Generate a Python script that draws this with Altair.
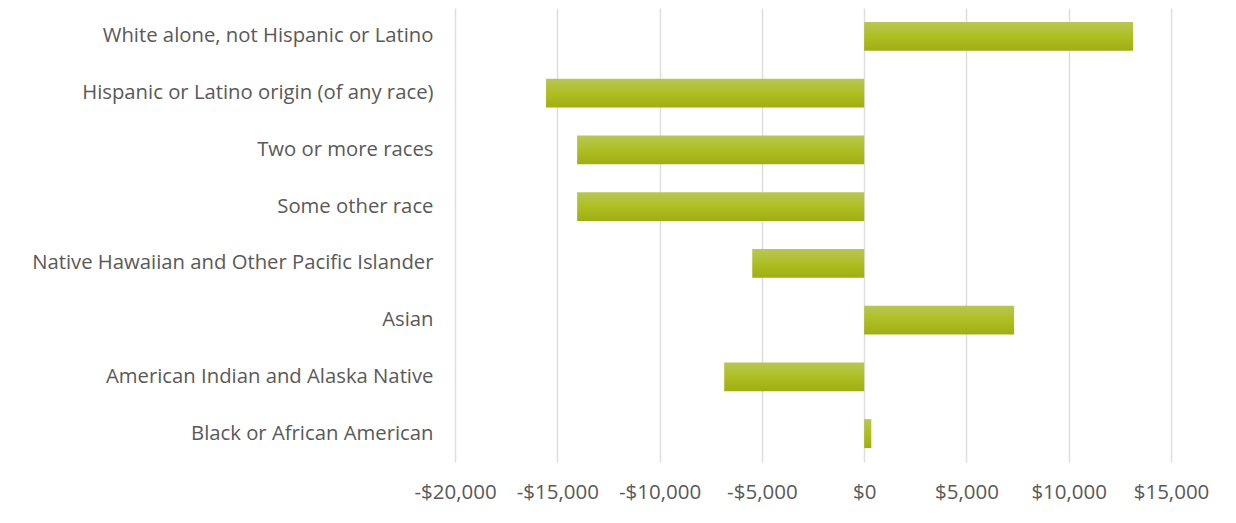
import altair as alt
import pandas as pd

categories = [
    "White alone, not Hispanic or Latino",
    "Hispanic or Latino origin (of any race)",
    "Two or more races",
    "Some other race",
    "Native Hawaiian and Other Pacific Islander",
    "Asian",
    "American Indian and Alaska Native",
    "Black or African American",
]
values = [13150, -15550, -14030, -14030, -5470, 7330, -6840, 350]
x_ticks = [-20000, -15000, -10000, -5000, 0, 5000, 10000, 15000]

df = pd.DataFrame({"category": categories, "value": values})

gradient = alt.Gradient(
    gradient="linear",
    x1=0, y1=0, x2=0, y2=1,
    stops=[
        alt.GradientStop(color="#b8c656", offset=0),
        alt.GradientStop(color="#aebf22", offset=0.5),
        alt.GradientStop(color="#9fae12", offset=1),
    ],
)

font = "Open Sans"
text_color = "#595959"

chart = (
    alt.Chart(df)
    .mark_bar(color=gradient)
    .encode(
        x=alt.X(
            "value:Q",
            scale=alt.Scale(domain=[-20000, 15000], nice=False, zero=False),
            axis=alt.Axis(
                values=x_ticks,
                labelExpr="(datum.value < 0 ? '-$' : '$') + format(abs(datum.value), ',')",
                title=None,
                ticks=False,
                domain=False,
                grid=True,
                gridColor="#dedede",
                gridWidth=1.5,
                labelFont=font,
                labelFontSize=20.5,
                labelColor=text_color,
                labelPadding=20,
                labelOverlap=False,
                labelFlush=False,
            ),
        ),
        y=alt.Y(
            "category:N",
            sort=categories,
            scale=alt.Scale(paddingInner=0.49, paddingOuter=0.245),
            axis=alt.Axis(
                title=None,
                ticks=False,
                domain=False,
                grid=False,
                labelFont=font,
                labelFontSize=20.3,
                labelColor=text_color,
                labelPadding=22,
                labelLimit=600,
            ),
        ),
    )
    .properties(
        width=716,
        height=454,
        autosize=alt.AutoSizeParams(type="none"),
        padding={"left": 447, "top": 0, "right": 57, "bottom": 55},
    )
    .configure(background="white")
    .configure_view(stroke=None)
)

chart.save("out.html", embed_options={"renderer": "svg", "actions": False})
